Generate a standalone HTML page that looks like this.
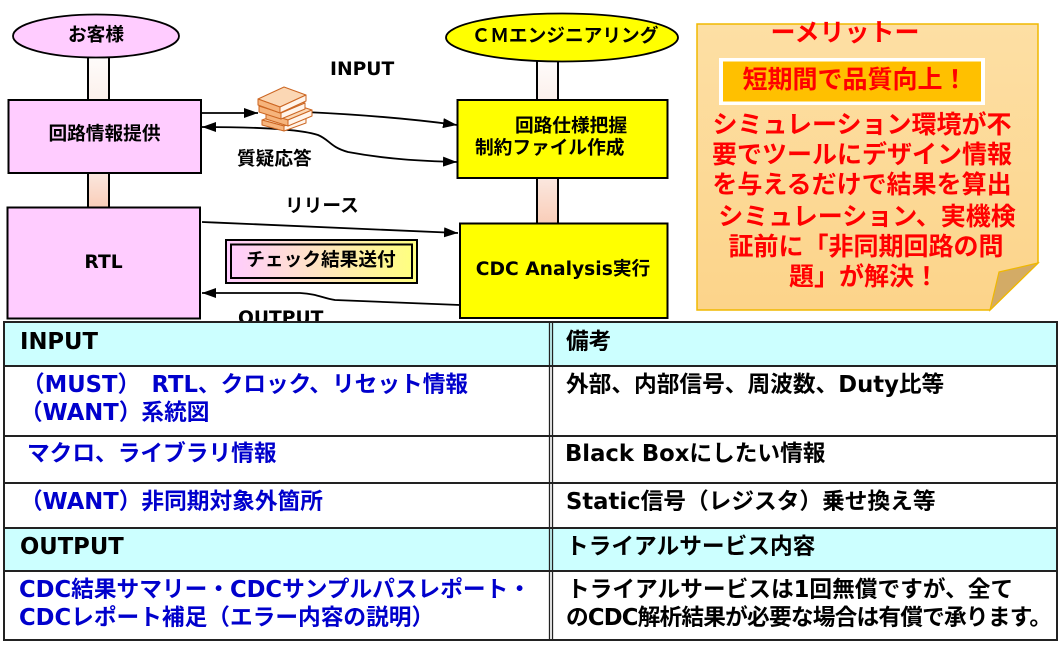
<!DOCTYPE html>
<html><head><meta charset="utf-8">
<style>
html,body{margin:0;padding:0;background:#fff;}
body{width:1059px;height:647px;position:relative;overflow:hidden;font-family:"DejaVu Sans","Noto Sans CJK JP",sans-serif;font-weight:bold;color:#000;}
.t{position:absolute;white-space:nowrap;}
.c{text-align:center;}
.d{font-size:18.7px;line-height:24px;}
.tb{font-size:22.7px;line-height:26px;}
.bl{color:#0000cc;}
.r{color:#ff0000;font-size:25px;line-height:30px;width:400px;text-align:center;}
</style></head><body>
<svg width="1059" height="647" style="position:absolute;left:0;top:0">
<defs>
<marker id="ah" viewBox="0 0 14 10" refX="14" refY="5" markerWidth="14" markerHeight="10" markerUnits="userSpaceOnUse" orient="auto-start-reverse"><path d="M0,0 L14,5 L0,10 z" fill="#000"/></marker>
<linearGradient id="bar1" x1="0" y1="0" x2="0" y2="1"><stop offset="0" stop-color="#fefcfb"/><stop offset="1" stop-color="#fcf0eb"/></linearGradient>
<linearGradient id="bar2" x1="0" y1="0" x2="0" y2="1"><stop offset="0" stop-color="#fbe8e0"/><stop offset="1" stop-color="#f9cdb8"/></linearGradient>
<linearGradient id="note" x1="0" y1="0" x2="0" y2="1"><stop offset="0" stop-color="#fddfa4"/><stop offset="1" stop-color="#fcd48a"/></linearGradient>
<linearGradient id="chk" x1="0" y1="0" x2="1" y2="0"><stop offset="0" stop-color="#ffccff"/><stop offset="1" stop-color="#ffff80"/></linearGradient>
</defs>

<!-- bars -->
<rect x="88" y="56" width="21" height="45" fill="url(#bar1)"/>
<line x1="88" y1="56" x2="88" y2="101" stroke="#000" stroke-width="2"/>
<line x1="109" y1="56" x2="109" y2="101" stroke="#000" stroke-width="2"/>
<rect x="88" y="172" width="21" height="36" fill="url(#bar2)"/>
<line x1="88" y1="172" x2="88" y2="208" stroke="#000" stroke-width="2"/>
<line x1="109" y1="172" x2="109" y2="208" stroke="#000" stroke-width="2"/>
<rect x="537" y="60" width="21" height="41" fill="url(#bar1)"/>
<line x1="537" y1="60" x2="537" y2="101" stroke="#000" stroke-width="2"/>
<line x1="558" y1="60" x2="558" y2="101" stroke="#000" stroke-width="2"/>
<rect x="537" y="177" width="21" height="47" fill="url(#bar2)"/>
<line x1="537" y1="177" x2="537" y2="224" stroke="#000" stroke-width="2"/>
<line x1="558" y1="177" x2="558" y2="224" stroke="#000" stroke-width="2"/>

<!-- ellipses -->
<ellipse cx="96" cy="36" rx="83" ry="21.5" fill="#ffccff" stroke="#000" stroke-width="1.8"/>
<ellipse cx="562" cy="37.5" rx="116" ry="24" fill="#ffff00" stroke="#000" stroke-width="1.8"/>

<!-- boxes -->
<rect x="8.5" y="100" width="192.5" height="73" fill="#ffccff" stroke="#000" stroke-width="2"/>
<rect x="7.5" y="207.5" width="192.5" height="111" fill="#ffccff" stroke="#000" stroke-width="2"/>
<rect x="457.5" y="100" width="210" height="78" fill="#ffff00" stroke="#000" stroke-width="2"/>
<rect x="460" y="223.5" width="207.5" height="94.5" fill="#ffff00" stroke="#000" stroke-width="2"/>

<!-- arrows -->
<path d="M202 113 L258 113" stroke="#000" stroke-width="1.8" fill="none" marker-end="url(#ah)"/>
<path d="M305 112 C370 115, 420 120, 457 125" stroke="#000" stroke-width="1.8" fill="none" marker-end="url(#ah)"/>
<path d="M202 127 C260 127, 300 129, 318 135 C330 140, 330 147, 348 152 C385 159, 420 161, 457 162" stroke="#000" stroke-width="1.8" fill="none" marker-start="url(#ah)" marker-end="url(#ah)"/>
<path d="M202 222 C300 226, 400 230, 458 233" stroke="#000" stroke-width="1.8" fill="none" marker-end="url(#ah)"/>
<path d="M460 305 L335 300 C322 298, 318 294, 300 293 L202 293" stroke="#000" stroke-width="1.8" fill="none" marker-end="url(#ah)"/>

<!-- books -->
<g stroke="#cc6622" stroke-width="1" stroke-linejoin="round">
 <g transform="translate(262,112)">
  <polygon points="0,8 22,0 44,6 22,14" fill="#fbd7b4"/>
  <polygon points="0,8 22,14 22,19 0,13" fill="#f6b47c"/>
  <polygon points="22,14 44,6 44,11 22,19" fill="#fff4ea"/>
 </g>
 <g transform="translate(266,103)">
  <polygon points="0,10 24,0 46,7 22,17" fill="#fbd7b4"/>
  <polygon points="0,10 22,17 22,23 0,16" fill="#f6b47c"/>
  <polygon points="22,17 46,7 46,13 22,23" fill="#fff4ea"/>
 </g>
 <g transform="translate(259,96)">
  <polygon points="0,10 24,0 46,7 22,17" fill="#fbd7b4"/>
  <polygon points="0,10 22,17 22,23 0,16" fill="#f6b47c"/>
  <polygon points="22,17 46,7 46,13 22,23" fill="#fff4ea"/>
 </g>
 <g transform="translate(258,87)">
  <polygon points="0,12 26,0 48,8 22,20" fill="#fbd7b4"/>
  <polygon points="0,12 22,20 22,26 0,18" fill="#f6b47c"/>
  <polygon points="22,20 48,8 48,14 22,26" fill="#fff4ea"/>
 </g>
</g>

<!-- check box -->
<rect x="226" y="240" width="191" height="43" fill="url(#chk)" stroke="#000" stroke-width="2"/>
<rect x="231" y="244.5" width="181" height="33.5" fill="url(#chk)" stroke="#000" stroke-width="2"/>

<!-- sticky note -->
<polygon points="697,24 1038,24 1038,263 990,310 697,310" fill="url(#note)" stroke="#f0b800" stroke-width="1.5"/>
<polygon points="999,272 1038,263 990,310" fill="#d3ab66" stroke="#f0b800" stroke-width="1.2"/>
<rect x="719" y="58" width="266" height="47" fill="#ffffff"/>
<rect x="723" y="61.5" width="258" height="40" fill="#ffc000"/>
</svg>

<!-- diagram text -->
<div class="t d c" style="left:13px;width:166px;top:24px;">お客様</div>
<div class="t d c" style="left:8px;width:193px;top:123px;">回路情報提供</div>
<div class="t d c" style="left:7px;width:193px;top:251px;">RTL</div>
<div class="t d c" style="left:449px;width:232px;top:25px;">ＣＭエンジニアリング</div>
<div class="t d c" style="left:471px;width:200px;top:115px;">回路仕様把握</div>
<div class="t d" style="left:475px;top:137px;">制約ファイル作成</div>
<div class="t d c" style="left:463px;width:200px;top:258px;">CDC Analysis実行</div>
<div class="t d" style="left:330px;top:58px;">INPUT</div>
<div class="t d" style="left:237px;top:148px;">質疑応答</div>
<div class="t d" style="left:285px;top:195px;">リリース</div>
<div class="t d c" style="left:221px;width:200px;top:249px;">チェック結果送付</div>
<div class="t d" style="left:238px;top:307px;">OUTPUT</div>

<!-- note text -->
<div class="t r" style="left:645px;top:18px;">ーメリットー</div>
<div class="t r" style="left:655px;top:65px;">短期間で品質向上！</div>
<div class="t r" style="left:662px;top:110px;">シミュレーション環境が不</div>
<div class="t r" style="left:662px;top:140px;">要でツールにデザイン情報</div>
<div class="t r" style="left:662px;top:170px;">を与えるだけで結果を算出</div>
<div class="t r" style="left:667px;top:202px;">シミュレーション、実機検</div>
<div class="t r" style="left:666px;top:232px;">証前に「非同期回路の問</div>
<div class="t r" style="left:664px;top:262px;">題」が解決！</div>

<!-- table -->
<svg width="1059" height="647" style="position:absolute;left:0;top:0">
<rect x="4" y="322" width="1053" height="318" fill="#fff"/>
<rect x="4" y="322" width="1053" height="44" fill="#ccffff"/>
<rect x="4" y="528" width="1053" height="43" fill="#ccffff"/>
<g stroke="#222" stroke-width="2">
<line x1="3" y1="322" x2="1058" y2="322"/>
<line x1="3" y1="366" x2="1058" y2="366"/>
<line x1="3" y1="436" x2="1058" y2="436"/>
<line x1="3" y1="483" x2="1058" y2="483"/>
<line x1="3" y1="528" x2="1058" y2="528"/>
<line x1="3" y1="571" x2="1058" y2="571"/>
<line x1="3" y1="640" x2="1058" y2="640"/>
<line x1="4" y1="321" x2="4" y2="641"/>
<line x1="1057" y1="321" x2="1057" y2="641"/>
</g>
<g stroke="#222" stroke-width="1.3">
<line x1="549.5" y1="322" x2="549.5" y2="640"/>
<line x1="552.5" y1="322" x2="552.5" y2="640"/>
</g>
</svg>

<div class="t tb" style="left:20px;top:329px;">INPUT</div>
<div class="t tb bl" style="left:22px;top:372px;">（MUST）　RTL、クロック、リセット情報</div>
<div class="t tb bl" style="left:20px;top:400px;">（WANT）系統図</div>
<div class="t tb bl" style="left:27px;top:441px;">マクロ、ライブラリ情報</div>
<div class="t tb bl" style="left:20px;top:489px;">（WANT）非同期対象外箇所</div>
<div class="t tb" style="left:20px;top:534px;">OUTPUT</div>
<div class="t tb bl" style="left:19px;top:577px;">CDC結果サマリー・CDCサンプルパスレポート・</div>
<div class="t tb bl" style="left:19px;top:605px;">CDCレポート補足（エラー内容の説明）</div>

<div class="t tb" style="left:566px;top:329px;">備考</div>
<div class="t tb" style="left:566px;top:372px;">外部、内部信号、周波数、Duty比等</div>
<div class="t tb" style="left:565px;top:441px;">Black Boxにしたい情報</div>
<div class="t tb" style="left:566px;top:489px;">Static信号（レジスタ）乗せ換え等</div>
<div class="t tb" style="left:566px;top:534px;">トライアルサービス内容</div>
<div class="t tb" style="left:567px;top:577px;">トライアルサービスは1回無償ですが、全て</div>
<div class="t tb" style="left:566px;top:605px;letter-spacing:-0.8px;">のCDC解析結果が必要な場合は有償で承ります。</div>
</body></html>
